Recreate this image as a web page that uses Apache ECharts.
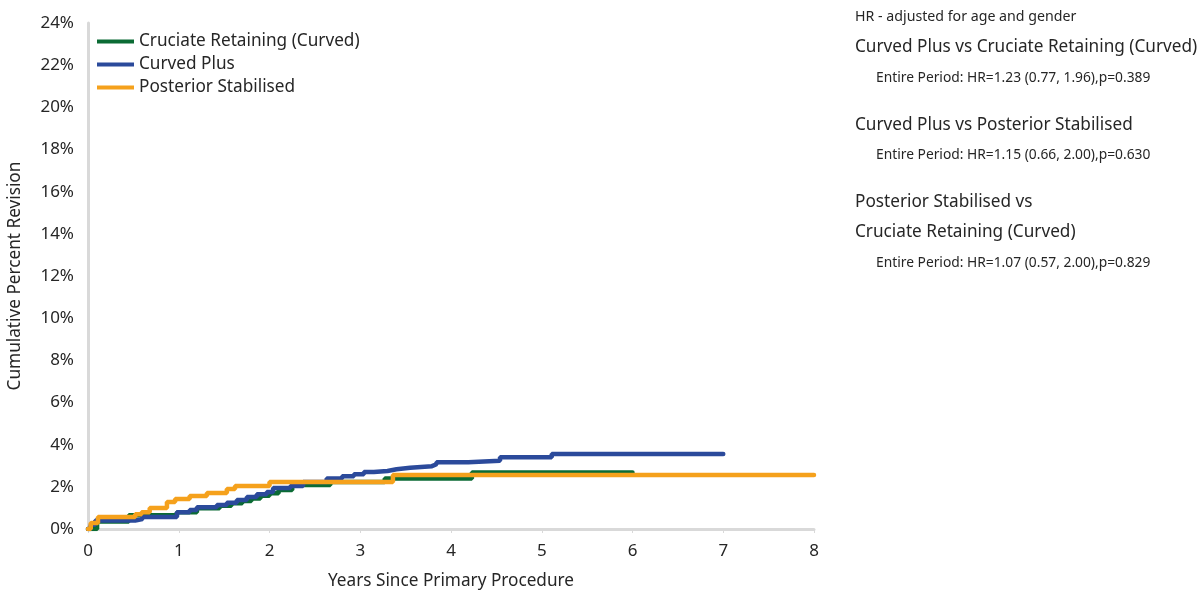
<!DOCTYPE html>
<html>
<head>
<meta charset="utf-8">
<script src="https://cdn.jsdelivr.net/npm/echarts@6/dist/echarts.min.js"></script>
<style>
html,body{margin:0;padding:0;background:#fff;}
#chart{width:1204px;height:594px;}
</style>
</head>
<body>
<div id="chart"></div>
<script>
// Years since primary procedure (x) and cumulative percent revision (y)
const seriesNames = ['Cruciate Retaining (Curved)', 'Curved Plus', 'Posterior Stabilised'];
const crYears = [0, 0.1, 0.45, 0.98, 1.2, 1.45, 1.58, 1.7, 1.8, 1.9, 2.0, 2.1, 2.25, 2.67, 3.27, 4.23, 6.0];
const crPct   = [0, 0.35, 0.65, 0.8, 0.98, 1.1, 1.22, 1.33, 1.45, 1.58, 1.7, 1.85, 2.09, 2.23, 2.4, 2.68, 2.68];
const cpYears = [0, 0.03, 0.08, 0.52, 0.6, 0.98, 1.12, 1.2, 1.42, 1.53, 1.64, 1.75, 1.86, 1.97, 2.04, 2.23, 2.37, 2.63, 2.8, 2.93, 3.04, 3.15, 3.3, 3.4, 3.55, 3.79, 3.84, 4.19, 4.54, 5.11, 7.0];
const cpPct   = [0, 0.2, 0.4, 0.47, 0.57, 0.8, 0.9, 1.03, 1.14, 1.25, 1.37, 1.52, 1.65, 1.76, 1.94, 2.04, 2.23, 2.4, 2.5, 2.6, 2.7, 2.75, 2.83, 2.9, 2.98, 3.07, 3.17, 3.24, 3.4, 3.56, 3.56];
const psYears = [0, 0.03, 0.11, 0.52, 0.59, 0.68, 0.87, 0.96, 1.12, 1.31, 1.53, 1.62, 2.0, 3.36, 8.0];
const psPct   = [0, 0.28, 0.57, 0.7, 0.8, 1.0, 1.28, 1.42, 1.57, 1.71, 1.9, 2.04, 2.23, 2.56, 2.56];
const xTicks = [0, 1, 2, 3, 4, 5, 6, 7, 8];
const yTicks = [0, 2, 4, 6, 8, 10, 12, 14, 16, 18, 20, 22, 24];
const hrNote = 'HR - adjusted for age and gender';
const comparisons = [
  {title: ['Curved Plus vs Cruciate Retaining (Curved)'], detail: 'Entire Period: HR=1.23 (0.77, 1.96),p=0.389'},
  {title: ['Curved Plus vs Posterior Stabilised'], detail: 'Entire Period: HR=1.15 (0.66, 2.00),p=0.630'},
  {title: ['Posterior Stabilised vs', 'Cruciate Retaining (Curved)'], detail: 'Entire Period: HR=1.07 (0.57, 2.00),p=0.829'}
];

const colors = ['#0b6b34', '#2b4a9b', '#f5a11c'];
const FONT = 'Noto Sans';
const zip = (xs, ys) => xs.map((x, i) => [x, ys[i]]);
const dataSets = [zip(crYears, crPct), zip(cpYears, cpPct), zip(psYears, psPct)];

// Right-hand text block
const graphics = [];
graphics.push({type: 'text', left: 855, top: 10, style: {text: hrNote, font: '14.2px "' + FONT + '"', fill: '#262626'}});
const titleTops = [[39], [117], [194, 224]];
const detailTops = [71, 148, 256];
comparisons.forEach((c, i) => {
  c.title.forEach((t, j) => {
    graphics.push({type: 'text', left: 855, top: titleTops[i][j], style: {text: t, font: '17.2px "' + FONT + '"', fill: '#262626'}});
  });
  graphics.push({type: 'text', left: 876, top: detailTops[i], style: {text: c.detail, font: '13.8px "' + FONT + '"', fill: '#262626'}});
});

const chart = echarts.init(document.getElementById('chart'), null, {renderer: 'canvas'});
chart.setOption({
  animation: false,
  backgroundColor: '#ffffff',
  color: colors,
  textStyle: {fontFamily: FONT},
  grid: {left: 88, right: 390, top: 23, bottom: 65, containLabel: false, outerBoundsMode: 'none'},
  legend: {
    orient: 'vertical', left: 97, top: 33, padding: 0,
    icon: 'rect', itemWidth: 37, itemHeight: 4, itemGap: 6,
    textStyle: {fontSize: 17.2, color: '#262626', fontFamily: FONT},
    data: seriesNames
  },
  xAxis: {
    type: 'value', min: 0, max: 8, interval: 1,
    name: 'Years Since Primary Procedure', nameLocation: 'middle', nameGap: 44,
    nameTextStyle: {fontSize: 17.2, color: '#262626'},
    axisLine: {show: true, lineStyle: {color: '#d9d9d9', width: 3}},
    axisTick: {show: true, length: 4, lineStyle: {color: '#d9d9d9', width: 1}},
    axisLabel: {fontSize: 17, color: '#262626', margin: 14, formatter: v => xTicks.includes(v) ? String(v) : ''},
    splitLine: {show: false}
  },
  yAxis: {
    type: 'value', min: 0, max: 24, interval: 2,
    name: 'Cumulative Percent Revision', nameLocation: 'middle', nameGap: 64, nameRotate: 90,
    nameTextStyle: {fontSize: 17.2, color: '#262626'},
    axisLine: {show: true, lineStyle: {color: '#d9d9d9', width: 3}},
    axisTick: {show: false},
    axisLabel: {fontSize: 17, color: '#262626', margin: 14, formatter: v => yTicks.includes(v) ? v + '%' : ''},
    splitLine: {show: false}
  },
  series: seriesNames.map((n, i) => ({
    name: n, type: 'line', step: 'end', data: dataSets[i],
    showSymbol: false, symbol: 'none',
    lineStyle: {width: 4.5, color: colors[i], cap: 'round'},
    z: i === 2 ? 4 : (i === 1 ? 3 : 2)
  })),
  graphic: graphics
});
</script>
</body>
</html>
